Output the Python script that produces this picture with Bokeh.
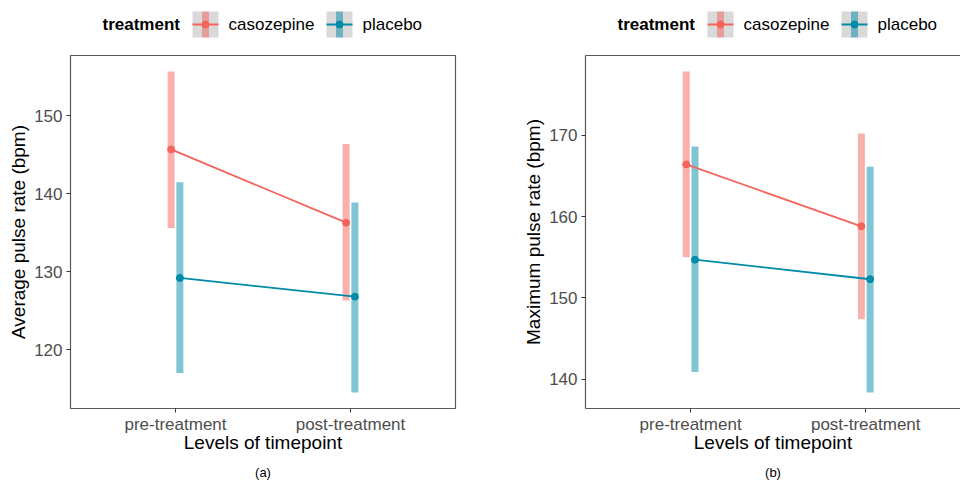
from bokeh.plotting import figure
from bokeh.layouts import column, row
from bokeh.models import Range1d, FixedTicker, LinearAxis
from bokeh.core.properties import value
from bokeh.embed import file_html
from bokeh.resources import INLINE

# ---------------- data ----------------
timepoints = ["pre-treatment", "post-treatment"]
treatments = ["casozepine", "placebo"]

avg_caso_mean = [145.7, 136.3]
avg_caso_low = [135.6, 126.3]
avg_caso_high = [155.7, 146.4]
avg_plac_mean = [129.2, 126.8]
avg_plac_low = [117.0, 114.5]
avg_plac_high = [141.5, 138.9]

max_caso_mean = [166.4, 158.8]
max_caso_low = [155.0, 147.4]
max_caso_high = [177.8, 170.2]
max_plac_mean = [154.7, 152.3]
max_plac_low = [140.9, 138.4]
max_plac_high = [168.6, 166.1]

avg_ticks = [120, 130, 140, 150]
max_ticks = [140, 150, 160, 170]

# ---------------- style ----------------
FONT = "Liberation Sans"
COLORS = {"casozepine": "#F5645B", "placebo": "#008BA8"}
BAR_ALPHA = 0.5
BORDER = "#595959"
DODGE = 0.025
TOP_H, PANEL_H, BOT_H = 48, 414, 20


def style_axis(ax, line_color=None):
    ax.axis_line_color = line_color
    ax.major_tick_out = 4
    ax.major_tick_in = 0
    ax.minor_tick_out = 0
    ax.minor_tick_in = 0
    ax.major_tick_line_color = "#333333"
    ax.major_label_text_font = FONT
    ax.major_label_text_font_size = "17px"
    ax.major_label_text_color = "#4D4D4D"
    ax.axis_label_text_font = FONT
    ax.axis_label_text_font_size = "19px"
    ax.axis_label_text_font_style = "normal"
    ax.axis_label_text_color = "#000000"


def make_panel(series, yticks, ylabel, x_end, min_left, min_right, full_outline):
    lows = [v for s in series.values() for v in s[1]]
    highs = [v for s in series.values() for v in s[2]]
    lo, hi = min(lows), max(highs)
    pad = 0.05 * (hi - lo)
    p = figure(width=480, height=PANEL_H,
               x_range=Range1d(0.4, x_end), y_range=Range1d(lo - pad, hi + pad),
               output_backend="svg", toolbar_location=None,
               min_border_left=min_left, min_border_right=min_right,
               min_border_top=7, min_border_bottom=54)
    p.grid.visible = False
    p.background_fill_color = "white"
    p.border_fill_color = "white"

    offsets = {"casozepine": -DODGE, "placebo": DODGE}
    for name, (mean, low, high) in series.items():
        xs = [i + 1 + offsets[name] for i in range(len(timepoints))]
        p.vbar(x=xs, width=0.04, bottom=low, top=high,
               fill_color=COLORS[name], fill_alpha=BAR_ALPHA, line_color=None)
    for name, (mean, low, high) in series.items():
        xs = [i + 1 + offsets[name] for i in range(len(timepoints))]
        p.line(xs, mean, line_color=COLORS[name], line_width=1.8)
        p.scatter(xs, mean, size=7, fill_color=COLORS[name], line_color=COLORS[name])

    p.xaxis.ticker = FixedTicker(ticks=[1, 2])
    p.xaxis.major_label_overrides = {i + 1: t for i, t in enumerate(timepoints)}
    p.xaxis.axis_label = "Levels of timepoint"
    p.yaxis.ticker = FixedTicker(ticks=yticks)
    p.yaxis.axis_label = ylabel

    if full_outline:
        p.outline_line_color = BORDER
        p.outline_line_width = 1.2
        style_axis(p.xaxis[0])
        style_axis(p.yaxis[0])
    else:
        p.outline_line_color = None
        style_axis(p.xaxis[0], BORDER)
        style_axis(p.yaxis[0], BORDER)
        p.xaxis.axis_line_width = 1.2
        p.yaxis.axis_line_width = 1.2
        top = LinearAxis(ticker=FixedTicker(ticks=[]), axis_line_color=BORDER,
                         axis_line_width=1.2, major_tick_out=0, major_tick_in=0,
                         minor_tick_out=0, minor_tick_in=0,
                         major_label_text_font_size="0px", major_label_standoff=0)
        p.add_layout(top, "above")
    p.xaxis.major_label_standoff = 2
    p.xaxis.axis_label_standoff = -5
    p.yaxis.major_label_standoff = 4
    p.yaxis.axis_label_standoff = 2
    return p


p1 = make_panel({"casozepine": (avg_caso_mean, avg_caso_low, avg_caso_high),
                 "placebo": (avg_plac_mean, avg_plac_low, avg_plac_high)},
                avg_ticks, "Average pulse rate (bpm)", 2.6, 70, 25, True)
p2 = make_panel({"casozepine": (max_caso_mean, max_caso_low, max_caso_high),
                 "placebo": (max_plac_mean, max_plac_low, max_plac_high)},
                max_ticks, "Maximum pulse rate (bpm)", 2.541, 105, 0, False)

# ---------------- legend strip ----------------
leg = figure(width=960, height=TOP_H, x_range=Range1d(0, 960), y_range=Range1d(TOP_H, 0),
             output_backend="svg", toolbar_location=None, min_border=0,
             x_axis_type=None, y_axis_type=None)
leg.grid.visible = False
leg.outline_line_color = None
cy = 24
for off in (0, 515):
    leg.text(x=[102 + off], y=[cy], text=["treatment"], text_font=value(FONT),
             text_font_size="17px", text_font_style="bold", text_color="#000000",
             text_baseline="middle", text_align="left")
    for kx, tx, name in ((205, 228, treatments[0]), (339, 362, treatments[1])):
        kx += off
        tx += off
        leg.rect(x=[kx], y=[cy], width=26, height=26, fill_color="#D9D9D9", line_color=None)
        leg.rect(x=[kx], y=[cy], width=7, height=26, fill_color=COLORS[name],
                 fill_alpha=BAR_ALPHA, line_color=None)
        leg.segment(x0=[kx - 13], y0=[cy], x1=[kx + 13], y1=[cy],
                    line_color=COLORS[name], line_width=1.8)
        leg.scatter(x=[kx], y=[cy], size=7, fill_color=COLORS[name], line_color=COLORS[name])
        leg.text(x=[tx], y=[cy], text=[name], text_font=value(FONT),
                 text_font_size="17px", text_color="#000000",
                 text_baseline="middle", text_align="left")

# ---------------- caption strip ----------------
cap = figure(width=960, height=BOT_H, x_range=Range1d(0, 960), y_range=Range1d(BOT_H, 0),
             output_backend="svg", toolbar_location=None, min_border=0,
             x_axis_type=None, y_axis_type=None)
cap.grid.visible = False
cap.outline_line_color = None
cap.text(x=[262.5, 772.5], y=[10, 10], text=["(a)", "(b)"], text_font=value(FONT),
         text_font_size="13px", text_color="#000000",
         text_baseline="middle", text_align="center")

layout = column(leg, row(p1, p2), cap)
open("out.html", "w").write(file_html(layout, INLINE))
